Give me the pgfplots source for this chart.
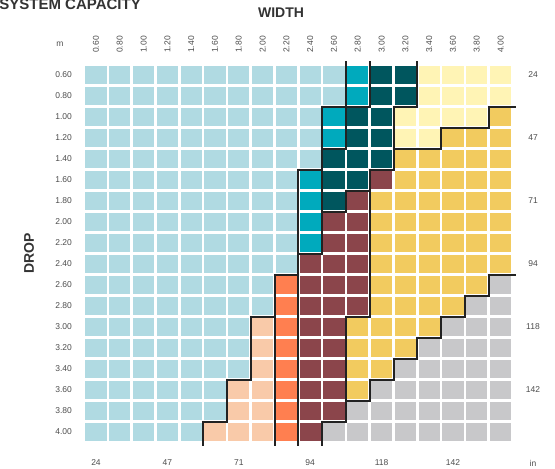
\documentclass[border=0pt]{standalone}
\usepackage{fontspec}
\setmainfont{Liberation Sans}
\usepackage{pgfplots}
\pgfplotsset{compat=1.18}

\definecolor{labelgrey}{HTML}{4D4D4D}
\definecolor{titlegrey}{HTML}{333333}
\definecolor{sysline}{HTML}{222222}

\pgfplotsset{
  gridbase/.style={
    scale only axis, width=428.4bp, height=378bp,
    xmin=-0.5, xmax=17.5, ymin=-0.5, ymax=17.5,
    y dir=reverse,
    axis line style={draw=none},
    tick style={draw=none},
    tick label style={font=\fontsize{8.5bp}{10bp}\selectfont, text=labelgrey, inner sep=0pt},
    /pgf/number format/assume math mode=true,
  },
  sys/.style={sysline, line width=2bp, mark=none, line join=miter, line cap=rect},
}

\begin{document}
\begin{tikzpicture}
\path[use as bounding box] (-84.1bp,-26.5bp) rectangle (470.9bp,442.5bp);

% cells: category 0..8 per cell, column index x, row index y
\begin{axis}[gridbase,
    axis on top,
    xtick={0,...,17},
    xticklabels={0.60,0.80,1.00,1.20,1.40,1.60,1.80,2.00,2.20,2.40,2.60,2.80,3.00,3.20,3.40,3.60,3.80,4.00},
    xticklabel pos=upper,
    xticklabel style={yshift=11.5bp, rotate=90, anchor=west},
    ytick={0,...,17},
    yticklabels={0.60,0.80,1.00,1.20,1.40,1.60,1.80,2.00,2.20,2.40,2.60,2.80,3.00,3.20,3.40,3.60,3.80,4.00},
    yticklabel pos=left,
    yticklabel style={anchor=east, xshift=-12bp},
    minor xtick={-0.5,0.5,...,17.5},
    minor ytick={-0.5,0.5,...,17.5},
    xminorgrids=true, yminorgrids=true,
    minor grid style={white, line width=2.6bp},
    colormap={cats}{rgb255=(176,218,226) rgb255=(0,170,189) rgb255=(0,86,94)
      rgb255=(255,244,181) rgb255=(242,203,95) rgb255=(139,69,75)
      rgb255=(255,127,80) rgb255=(249,202,169) rgb255=(200,200,202)},
    colormap access=direct,
]
\addplot[matrix plot*, mesh/cols=18, point meta=explicit] table[row sep=\\, meta index=2] {
x y c\\
0 0 0\\1 0 0\\2 0 0\\3 0 0\\4 0 0\\5 0 0\\6 0 0\\7 0 0\\8 0 0\\9 0 0\\10 0 0\\11 0 1\\12 0 2\\13 0 2\\14 0 3\\15 0 3\\16 0 3\\17 0 3\\
0 1 0\\1 1 0\\2 1 0\\3 1 0\\4 1 0\\5 1 0\\6 1 0\\7 1 0\\8 1 0\\9 1 0\\10 1 0\\11 1 1\\12 1 2\\13 1 2\\14 1 3\\15 1 3\\16 1 3\\17 1 3\\
0 2 0\\1 2 0\\2 2 0\\3 2 0\\4 2 0\\5 2 0\\6 2 0\\7 2 0\\8 2 0\\9 2 0\\10 2 1\\11 2 2\\12 2 2\\13 2 3\\14 2 3\\15 2 3\\16 2 3\\17 2 4\\
0 3 0\\1 3 0\\2 3 0\\3 3 0\\4 3 0\\5 3 0\\6 3 0\\7 3 0\\8 3 0\\9 3 0\\10 3 1\\11 3 2\\12 3 2\\13 3 3\\14 3 3\\15 3 4\\16 3 4\\17 3 4\\
0 4 0\\1 4 0\\2 4 0\\3 4 0\\4 4 0\\5 4 0\\6 4 0\\7 4 0\\8 4 0\\9 4 0\\10 4 2\\11 4 2\\12 4 2\\13 4 4\\14 4 4\\15 4 4\\16 4 4\\17 4 4\\
0 5 0\\1 5 0\\2 5 0\\3 5 0\\4 5 0\\5 5 0\\6 5 0\\7 5 0\\8 5 0\\9 5 1\\10 5 2\\11 5 2\\12 5 5\\13 5 4\\14 5 4\\15 5 4\\16 5 4\\17 5 4\\
0 6 0\\1 6 0\\2 6 0\\3 6 0\\4 6 0\\5 6 0\\6 6 0\\7 6 0\\8 6 0\\9 6 1\\10 6 2\\11 6 5\\12 6 4\\13 6 4\\14 6 4\\15 6 4\\16 6 4\\17 6 4\\
0 7 0\\1 7 0\\2 7 0\\3 7 0\\4 7 0\\5 7 0\\6 7 0\\7 7 0\\8 7 0\\9 7 1\\10 7 5\\11 7 5\\12 7 4\\13 7 4\\14 7 4\\15 7 4\\16 7 4\\17 7 4\\
0 8 0\\1 8 0\\2 8 0\\3 8 0\\4 8 0\\5 8 0\\6 8 0\\7 8 0\\8 8 0\\9 8 1\\10 8 5\\11 8 5\\12 8 4\\13 8 4\\14 8 4\\15 8 4\\16 8 4\\17 8 4\\
0 9 0\\1 9 0\\2 9 0\\3 9 0\\4 9 0\\5 9 0\\6 9 0\\7 9 0\\8 9 0\\9 9 5\\10 9 5\\11 9 5\\12 9 4\\13 9 4\\14 9 4\\15 9 4\\16 9 4\\17 9 4\\
0 10 0\\1 10 0\\2 10 0\\3 10 0\\4 10 0\\5 10 0\\6 10 0\\7 10 0\\8 10 6\\9 10 5\\10 10 5\\11 10 5\\12 10 4\\13 10 4\\14 10 4\\15 10 4\\16 10 4\\17 10 8\\
0 11 0\\1 11 0\\2 11 0\\3 11 0\\4 11 0\\5 11 0\\6 11 0\\7 11 0\\8 11 6\\9 11 5\\10 11 5\\11 11 5\\12 11 4\\13 11 4\\14 11 4\\15 11 4\\16 11 8\\17 11 8\\
0 12 0\\1 12 0\\2 12 0\\3 12 0\\4 12 0\\5 12 0\\6 12 0\\7 12 7\\8 12 6\\9 12 5\\10 12 5\\11 12 4\\12 12 4\\13 12 4\\14 12 4\\15 12 8\\16 12 8\\17 12 8\\
0 13 0\\1 13 0\\2 13 0\\3 13 0\\4 13 0\\5 13 0\\6 13 0\\7 13 7\\8 13 6\\9 13 5\\10 13 5\\11 13 4\\12 13 4\\13 13 4\\14 13 8\\15 13 8\\16 13 8\\17 13 8\\
0 14 0\\1 14 0\\2 14 0\\3 14 0\\4 14 0\\5 14 0\\6 14 0\\7 14 7\\8 14 6\\9 14 5\\10 14 5\\11 14 4\\12 14 4\\13 14 8\\14 14 8\\15 14 8\\16 14 8\\17 14 8\\
0 15 0\\1 15 0\\2 15 0\\3 15 0\\4 15 0\\5 15 0\\6 15 7\\7 15 7\\8 15 6\\9 15 5\\10 15 5\\11 15 4\\12 15 8\\13 15 8\\14 15 8\\15 15 8\\16 15 8\\17 15 8\\
0 16 0\\1 16 0\\2 16 0\\3 16 0\\4 16 0\\5 16 0\\6 16 7\\7 16 7\\8 16 6\\9 16 5\\10 16 5\\11 16 8\\12 16 8\\13 16 8\\14 16 8\\15 16 8\\16 16 8\\17 16 8\\
0 17 0\\1 17 0\\2 17 0\\3 17 0\\4 17 0\\5 17 7\\6 17 7\\7 17 7\\8 17 6\\9 17 5\\10 17 8\\11 17 8\\12 17 8\\13 17 8\\14 17 8\\15 17 8\\16 17 8\\17 17 8\\
};
\end{axis}

% boundaries between systems, inch labels
\begin{axis}[gridbase,
    clip=false,
    xtick={0,3,...,15},
    xticklabels={24,47,71,94,118,142},
    xticklabel pos=lower,
    xticklabel style={anchor=center, yshift=-20.5bp},
    ytick={0,3,...,15},
    yticklabels={24,47,71,94,118,142},
    yticklabel pos=right,
    yticklabel style={anchor=center, xshift=20.5bp},
]
\addplot[sys] coordinates {(11.5,-0.6) (11.5,1.5) (9.5,1.5) (9.5,8.5) (8.5,8.5)};
\addplot[sys] coordinates {(10.5,-0.6) (10.5,3.5) (9.5,3.5)};
\addplot[sys] coordinates {(9.5,4.5) (8.5,4.5) (8.5,17.6)};
\addplot[sys] coordinates {(13.5,-0.6) (13.5,1.5) (12.5,1.5) (12.5,4.5) (11.5,4.5) (11.5,11.5) (10.5,11.5) (10.5,16.5) (9.5,16.5) (9.5,17.6)};
\addplot[sys] coordinates {(12.5,3.5) (14.5,3.5) (14.5,2.5) (16.5,2.5) (16.5,1.5) (17.6,1.5)};
\addplot[sys] coordinates {(11.5,5.5) (10.5,5.5) (10.5,6.5) (9.5,6.5)};
\addplot[sys] coordinates {(17.6,9.5) (16.5,9.5) (16.5,10.5) (15.5,10.5) (15.5,11.5) (14.5,11.5) (14.5,12.5) (13.5,12.5) (13.5,13.5) (12.5,13.5) (12.5,14.5) (11.5,14.5) (11.5,15.5) (10.5,15.5)};
\addplot[sys] coordinates {(8.5,9.5) (7.5,9.5) (7.5,17.6)};
\addplot[sys] coordinates {(7.5,11.5) (6.5,11.5) (6.5,14.5) (5.5,14.5) (5.5,16.5) (4.5,16.5) (4.5,17.6)};
\end{axis}

\node[font=\fontsize{8.5bp}{10bp}\selectfont, text=labelgrey] at (-24.1bp,398.5bp) {m};
\node[font=\fontsize{8.5bp}{10bp}\selectfont, text=labelgrey] at (448.9bp,-20.5bp) {in};
\node[font=\bfseries\fontsize{14bp}{16bp}\selectfont, text=titlegrey] at (196.9bp,429.5bp) {WIDTH};
\node[font=\bfseries\fontsize{14bp}{16bp}\selectfont, text=titlegrey, rotate=90] at (-55.1bp,189.5bp) {DROP};
\node[font=\bfseries\fontsize{15bp}{17bp}\selectfont, text=titlegrey, anchor=base east, inner sep=0pt] at (56.9bp,432.5bp) {SYSTEM CAPACITY};
\end{tikzpicture}
\end{document}
